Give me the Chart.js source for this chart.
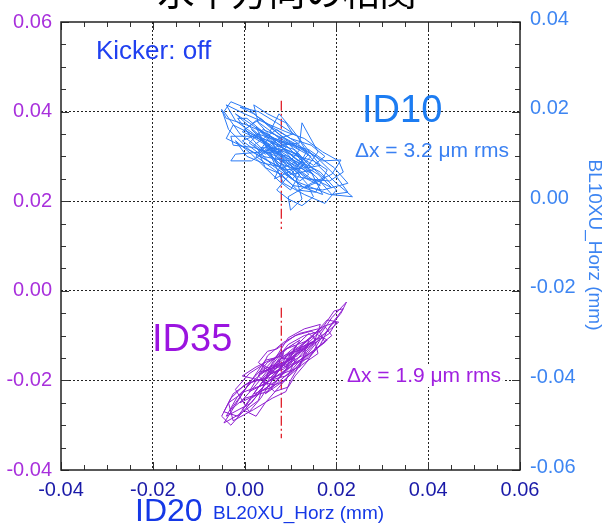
<!DOCTYPE html>
<html>
<head>
<meta charset="utf-8">
<script src="https://cdn.jsdelivr.net/npm/chart.js@4"></script>
<style>
  body { margin: 0; background: #fff; }
  canvas { display: block; }
</style>
</head>
<body>
<canvas id="myChart" width="606" height="525"></canvas>
<script>
// ID10 (BL10XU) vs ID20 (BL20XU) horizontal position, mm
const id10X = [0.0075,0.0030,0.0100,0.0150,0.0090,0.0010,-0.0020,0.0040,0.0120,0.0175,0.0130,0.0060,0.0020,0.0070,0.0115,0.0160,0.0200,0.0235,0.0185,0.0110,
  0.0050,-0.0010,-0.0045,-0.0030,0.0010,0.0055,0.0095,0.0140,0.0105,0.0065,0.0085,0.0045,0.0000,0.0035,0.0080,0.0125,0.0170,0.0210,0.0190,0.0145,
  0.0095,0.0100,0.0125,0.0110,0.0070,0.0025,-0.0025,-0.0040,0.0000,0.0050,0.0090,0.0135,0.0160,0.0125,0.0120,0.0080,0.0040,-0.0020,-0.0030,0.0015,
  0.0060,0.0100,0.0150,0.0180,0.0155,0.0115,0.0080,0.0045,0.0030,0.0075,0.0105,0.0090,0.0050,0.0020,0.0030,0.0065,0.0110,0.0165,0.0200,0.0175,
  0.0130,0.0085,0.0060,0.0020,-0.0015,0.0005,0.0045,0.0095,0.0130,0.0105,0.0075,0.0055,0.0095,0.0140,0.0120,0.0070,0.0035,0.0085,0.0115,0.0080,
  0.0060,0.0110,0.0150,0.0100,0.0050,0.0015,0.0070,0.0125,0.0165,0.0135,0.0090,0.0040,-0.0005,0.0030,0.0085,0.0140,0.0195,0.0225,0.0170,0.0105,
  0.0065,0.0025,0.0055,0.0100,0.0145,0.0115,0.0075,0.0045,0.0080,
  0.0090,0.0050,0.0005,-0.0040,-0.0050,-0.0035,0.0010,0.0060,0.0115,0.0160,0.0190,0.0160,0.0120,0.0085,0.0040,-0.0005,0.0025,0.0065,0.0105,0.0150,
  0.0175,0.0145,0.0100,0.0060,0.0020,-0.0010,0.0030,0.0070,0.0115,0.0135,0.0115,0.0090,0.0070,0.0095,0.0125,0.0150,0.0135,0.0100,0.0060,0.0020,
  -0.0025,-0.0030,0.0015,0.0055,0.0095,0.0140,0.0185,0.0215,0.0205,0.0170,0.0130,0.0090,0.0045,0.0000,-0.0040,-0.0020,0.0020,0.0065,0.0110,0.0155,
  0.0190,0.0225,0.0200,0.0155,0.0110,0.0065,0.0025,0.0045,0.0080,0.0120,0.0100,0.0075,0.0050,0.0015,-0.0020,0.0005,0.0040,0.0085,0.0125,0.0095,
  0.0055,0.0075,0.0100,0.0130,0.0165,0.0140,0.0105,0.0070,0.0035,0.0060,0.0090,0.0130,0.0170,0.0145,0.0115,0.0080,0.0045,0.0010,0.0040,0.0085,
  0.0120,0.0100,0.0065,0.0080];
const id10Y = [0.0120,0.0160,0.0085,0.0060,0.0115,0.0175,0.0195,0.0140,0.0100,0.0050,0.0030,0.0080,0.0125,0.0160,0.0130,0.0080,0.0040,0.0010,0.0015,0.0045,
  0.0105,0.0150,0.0200,0.0222,0.0205,0.0165,0.0135,0.0105,0.0070,0.0050,0.0095,0.0130,0.0160,0.0185,0.0145,0.0120,0.0090,0.0092,0.0060,0.0040,
  0.0010,-0.0020,0.0005,0.0060,0.0105,0.0145,0.0170,0.0140,0.0120,0.0090,0.0070,0.0075,0.0110,0.0175,0.0130,0.0125,0.0110,0.0105,0.0090,0.0090,
  0.0120,0.0105,0.0090,0.0070,0.0020,0.0025,0.0060,0.0075,0.0110,0.0140,0.0150,0.0175,0.0195,0.0215,0.0175,0.0135,0.0095,0.0065,0.0025,-0.0005,
  0.0015,0.0040,0.0095,0.0135,0.0185,0.0185,0.0150,0.0120,0.0085,0.0050,0.0075,0.0110,0.0100,0.0060,0.0045,0.0090,0.0120,0.0115,0.0080,0.0105,
  0.0130,0.0115,0.0070,0.0060,0.0125,0.0160,0.0110,0.0065,0.0035,0.0050,0.0090,0.0100,0.0135,0.0150,0.0130,0.0115,0.0075,0.0040,0.0025,0.0035,
  0.0070,0.0100,0.0145,0.0125,0.0100,0.0070,0.0085,0.0115,0.0110,
  0.0120,0.0150,0.0170,0.0185,0.0205,0.0160,0.0115,0.0085,0.0055,0.0045,0.0030,0.0060,0.0085,0.0100,0.0135,0.0155,0.0180,0.0150,0.0110,0.0080,
  0.0100,0.0125,0.0140,0.0165,0.0195,0.0210,0.0200,0.0175,0.0145,0.0110,0.0075,0.0050,0.0025,0.0005,-0.0010,0.0010,0.0040,0.0080,0.0105,0.0120,
  0.0125,0.0145,0.0145,0.0120,0.0085,0.0050,0.0045,0.0065,0.0090,0.0110,0.0140,0.0155,0.0175,0.0195,0.0215,0.0180,0.0150,0.0120,0.0090,0.0055,
  0.0015,0.0020,0.0055,0.0100,0.0125,0.0140,0.0165,0.0125,0.0090,0.0060,0.0025,0.0045,0.0070,0.0105,0.0135,0.0100,0.0085,0.0075,0.0095,0.0130,
  0.0155,0.0195,0.0165,0.0125,0.0080,0.0075,0.0100,0.0130,0.0140,0.0100,0.0060,0.0030,0.0015,0.0065,0.0105,0.0120,0.0105,0.0130,0.0160,0.0140,
  0.0115,0.0090,0.0095,0.0115];

// ID35 vs ID20
const id35X = [0.0080,0.0040,0.0110,0.0060,0.0020,0.0090,0.0140,0.0120,0.0070,0.0010,-0.0020,-0.0045,-0.0010,0.0030,0.0055,0.0095,0.0130,0.0165,0.0150,0.0100,
  0.0050,0.0000,-0.0030,0.0005,0.0045,0.0085,0.0125,0.0175,0.0210,0.0222,0.0190,0.0160,0.0115,0.0075,0.0035,-0.0005,0.0025,0.0065,0.0105,0.0135,
  0.0100,0.0090,0.0060,0.0020,-0.0025,-0.0035,0.0000,0.0040,0.0080,0.0120,0.0155,0.0180,0.0145,0.0110,0.0070,0.0050,0.0030,0.0060,0.0095,0.0130,
  0.0170,0.0200,0.0185,0.0140,0.0100,0.0055,0.0015,-0.0040,-0.0015,0.0025,0.0070,0.0110,0.0090,0.0045,0.0080,0.0125,0.0160,0.0150,0.0105,0.0065,
  0.0035,0.0075,0.0120,0.0095,0.0050,0.0010,0.0040,0.0085,0.0115,0.0145,0.0105,0.0070,0.0030,0.0060,0.0100,0.0135,0.0165,0.0130,0.0090,0.0075,
  0.0085,0.0050,0.0015,-0.0025,-0.0050,-0.0030,0.0005,0.0035,0.0070,0.0105,0.0140,0.0165,0.0185,0.0215,0.0195,0.0165,0.0130,0.0095,0.0060,0.0025,
  -0.0010,0.0020,0.0055,0.0090,0.0115,0.0150,0.0175,0.0160,0.0120,0.0085,0.0050,0.0030,0.0065,0.0095,0.0110,0.0135,0.0170,0.0205,0.0180,0.0145,
  0.0110,0.0075,0.0040,0.0000,-0.0030,-0.0045,-0.0015,0.0015,0.0050,0.0080,0.0115,0.0140,0.0155,0.0125,0.0090,0.0060,0.0030,-0.0005,0.0025,0.0045,
  0.0075,0.0105,0.0130,0.0160,0.0190,0.0175,0.0140,0.0100,0.0070,0.0040,0.0010,-0.0020,0.0010,0.0035,0.0060,0.0095,0.0125,0.0150,0.0120,0.0085,
  0.0055,0.0080,0.0110,0.0090,0.0065,0.0040,0.0075];
const id35Y = [-0.0165,-0.0180,-0.0150,-0.0215,-0.0230,-0.0130,-0.0110,-0.0170,-0.0190,-0.0205,-0.0255,-0.0295,-0.0275,-0.0245,-0.0170,-0.0105,-0.0085,-0.0075,-0.0120,-0.0180,
  -0.0225,-0.0240,-0.0265,-0.0215,-0.0155,-0.0145,-0.0130,-0.0095,-0.0050,-0.0025,-0.0060,-0.0105,-0.0140,-0.0175,-0.0200,-0.0190,-0.0170,-0.0150,-0.0120,-0.0140,
  -0.0200,-0.0225,-0.0240,-0.0265,-0.0290,-0.0250,-0.0225,-0.0210,-0.0185,-0.0155,-0.0130,-0.0110,-0.0090,-0.0100,-0.0130,-0.0135,-0.0160,-0.0185,-0.0165,-0.0115,
  -0.0080,-0.0070,-0.0095,-0.0125,-0.0150,-0.0195,-0.0250,-0.0280,-0.0235,-0.0195,-0.0160,-0.0125,-0.0175,-0.0230,-0.0205,-0.0165,-0.0140,-0.0100,-0.0135,-0.0170,
  -0.0185,-0.0140,-0.0110,-0.0155,-0.0205,-0.0225,-0.0175,-0.0160,-0.0145,-0.0115,-0.0165,-0.0190,-0.0215,-0.0180,-0.0150,-0.0120,-0.0105,-0.0150,-0.0170,-0.0160,
  -0.0140,-0.0160,-0.0200,-0.0230,-0.0280,-0.0300,-0.0260,-0.0225,-0.0200,-0.0165,-0.0150,-0.0120,-0.0080,-0.0040,-0.0045,-0.0090,-0.0100,-0.0120,-0.0165,-0.0210,
  -0.0250,-0.0235,-0.0200,-0.0190,-0.0170,-0.0135,-0.0115,-0.0085,-0.0095,-0.0115,-0.0145,-0.0190,-0.0225,-0.0215,-0.0190,-0.0160,-0.0100,-0.0070,-0.0065,-0.0105,
  -0.0135,-0.0155,-0.0195,-0.0210,-0.0240,-0.0270,-0.0280,-0.0240,-0.0215,-0.0170,-0.0120,-0.0095,-0.0110,-0.0145,-0.0165,-0.0175,-0.0215,-0.0265,-0.0280,-0.0250,
  -0.0215,-0.0180,-0.0150,-0.0125,-0.0100,-0.0080,-0.0115,-0.0145,-0.0185,-0.0165,-0.0185,-0.0220,-0.0270,-0.0240,-0.0200,-0.0140,-0.0125,-0.0115,-0.0135,-0.0175,
  -0.0185,-0.0150,-0.0155,-0.0200,-0.0210,-0.0205,-0.0165];

// dash-dot reference line at x = 0.008
const refX = 0.008;
const refId10Y = [0.0224, -0.0062];
const refId35Y = [-0.0038, -0.0329];

const xTicks = [-0.04, -0.02, 0.00, 0.02, 0.04, 0.06];

const fontFam = "'Liberation Sans', Arial, sans-serif";
const toPts = (xs, ys) => xs.map((x, i) => ({ x: x, y: ys[i] }));
const fmt = v => Math.abs(v) < 1e-9 ? '0.00' : v.toFixed(2);

const innerGrid = ctx => {
  const v = ctx.tick ? ctx.tick.value : 0;
  const sc = ctx.scale;
  if (Math.abs(v - sc.min) < 1e-9 || Math.abs(v - sc.max) < 1e-9) return 'rgba(0,0,0,0)';
  return '#222';
};

const framePlugin = {
  id: 'frame',
  afterDraw(chart) {
    const { ctx, chartArea: a, scales } = chart;
    ctx.save();
    // inward ticks
    ctx.strokeStyle = '#333';
    ctx.lineWidth = 1;
    for (let i = 0; i <= 20; i++) {
      const major = i % 4 === 0;
      const len = major ? 8 : 5;
      const px = Math.round(scales.x.getPixelForValue(-0.04 + i * 0.005)) + 0.5;
      const py = Math.round(scales.y.getPixelForValue(-0.04 + i * 0.005)) + 0.5;
      ctx.beginPath();
      ctx.moveTo(px, a.bottom); ctx.lineTo(px, a.bottom - len);
      ctx.moveTo(px, a.top); ctx.lineTo(px, a.top + len);
      ctx.moveTo(a.left, py); ctx.lineTo(a.left + len, py);
      ctx.moveTo(a.right, py); ctx.lineTo(a.right - len, py);
      ctx.stroke();
    }
    ctx.lineWidth = 1.5;
    ctx.strokeStyle = '#222';
    ctx.strokeRect(a.left, a.top, a.right - a.left, a.bottom - a.top);

    // title, cut off by the top of the picture
    ctx.fillStyle = '#000';
    ctx.font = "37px 'Noto Sans CJK JP', sans-serif";
    ctx.textAlign = 'center';
    ctx.textBaseline = 'alphabetic';
    ctx.fillText('水平方向の相関', 287, 6);

    ctx.textAlign = 'left';
    ctx.textBaseline = 'middle';
    ctx.fillStyle = '#2040f0';
    ctx.font = '26px ' + fontFam;
    ctx.fillText('Kicker: off', 96, 52);

    ctx.fillStyle = '#1c7cf2';
    ctx.font = '38px ' + fontFam;
    ctx.fillText('ID10', 362, 112);
    ctx.fillStyle = '#3a80f2';
    ctx.font = '21px ' + fontFam;
    ctx.fillText('Δx = 3.2 μm rms', 355, 151);

    ctx.fillStyle = '#9b14e0';
    ctx.font = '38px ' + fontFam;
    ctx.fillText('ID35', 152, 341);
    ctx.font = '21px ' + fontFam;
    const t = 'Δx = 1.9 μm rms';
    const w = ctx.measureText(t).width;
    ctx.fillStyle = '#fff';
    ctx.fillRect(345, 365, w + 4, 22);
    ctx.fillStyle = '#a020e0';
    ctx.fillText(t, 347, 376);

    // x axis title
    ctx.textBaseline = 'alphabetic';
    ctx.fillStyle = '#1538e6';
    ctx.font = '32px ' + fontFam;
    ctx.fillText('ID20', 135, 521);
    ctx.font = '19px ' + fontFam;
    ctx.fillText('BL20XU_Horz (mm)', 213, 519);

    // right axis title
    ctx.translate(594, 245);
    ctx.rotate(Math.PI / 2);
    ctx.textAlign = 'center';
    ctx.textBaseline = 'middle';
    ctx.fillStyle = '#3d85f2';
    ctx.font = '19px ' + fontFam;
    ctx.fillText('BL10XU_Horz (mm)', 0, 0);
    ctx.restore();
  }
};

const cht = document.getElementById('myChart').getContext('2d');
const myChart = new Chart(cht, {
  type: 'scatter',
  data: {
    datasets: [
      {
        label: 'ID10',
        data: toPts(id10X, id10Y),
        yAxisID: 'y2',
        showLine: true,
        borderColor: '#2a7af5',
        borderWidth: 1,
        pointRadius: 0,
        tension: 0
      },
      {
        label: 'ID35',
        data: toPts(id35X, id35Y),
        yAxisID: 'y',
        showLine: true,
        borderColor: '#8e1ed0',
        borderWidth: 1,
        pointRadius: 0,
        tension: 0
      },
      {
        label: 'ref10',
        data: refId10Y.map(y => ({ x: refX, y: y })),
        yAxisID: 'y2',
        showLine: true,
        borderColor: '#e0202a',
        borderWidth: 1.3,
        borderDash: [10, 3, 2, 3],
        pointRadius: 0
      },
      {
        label: 'ref35',
        data: refId35Y.map(y => ({ x: refX, y: y })),
        yAxisID: 'y',
        showLine: true,
        borderColor: '#e0202a',
        borderWidth: 1.3,
        borderDash: [10, 3, 2, 3],
        pointRadius: 0
      }
    ]
  },
  options: {
    responsive: false,
    animation: false,
    layout: { padding: { top: 16 } },
    plugins: { legend: { display: false }, tooltip: { enabled: false } },
    scales: {
      x: {
        type: 'linear',
        min: -0.04, max: 0.06,
        afterBuildTicks: sc => { sc.ticks = xTicks.map(v => ({ value: v })); },
        afterFit: sc => { sc.height = 55; },
        ticks: { color: '#1a1aa8', font: { size: 20, family: fontFam }, padding: 8, callback: fmt, maxRotation: 0 },
        grid: { color: innerGrid, drawTicks: false },
        border: { display: false, dash: [2, 2] }
      },
      y: {
        type: 'linear',
        position: 'left',
        min: -0.04, max: 0.06,
        afterFit: sc => { sc.width = 61; },
        ticks: { stepSize: 0.02, color: '#a830dc', font: { size: 20, family: fontFam }, padding: 9, callback: fmt },
        grid: { color: innerGrid, drawTicks: false },
        border: { display: false, dash: [2, 2] }
      },
      y2: {
        type: 'linear',
        position: 'right',
        min: -0.06, max: 0.04,
        afterFit: sc => { sc.width = 86; },
        ticks: { stepSize: 0.02, color: '#3d85f2', font: { size: 20, family: fontFam }, padding: 10, labelOffset: -3, callback: fmt },
        grid: { display: false, drawTicks: false },
        border: { display: false }
      }
    }
  },
  plugins: [framePlugin]
});
</script>
</body>
</html>
